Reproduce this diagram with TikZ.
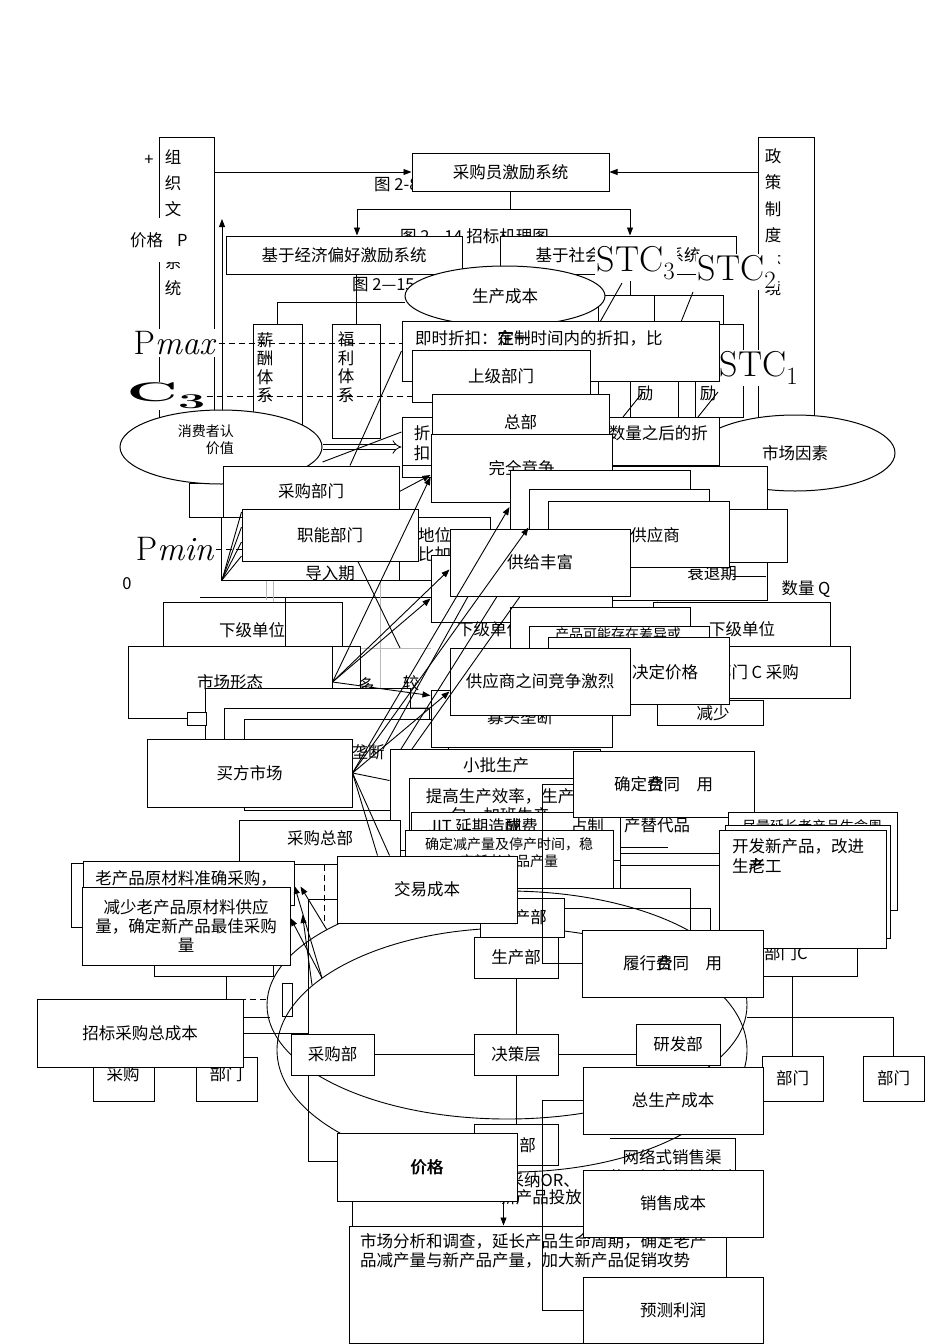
\documentclass[tikz,border=0pt]{standalone}
\usepackage{graphicx}
\usepackage{fontspec}
\newfontfamily\cjk{Noto Sans CJK SC}
\usetikzlibrary{arrows.meta, shapes.geometric}
\newcommand{\cjkf}{\cjk\fontsize{16.5}{19}\selectfont}
\newcommand{\cjks}{\cjk\fontsize{14}{17}\selectfont}
\newcommand{\ovl}[2]{\makebox[0pt][l]{#1}#2}

\begin{document}
\begin{tikzpicture}[x=1pt, y=-1pt,
  box/.style={draw, fill=white, line width=1pt, inner sep=0pt, font=\cjkf},
  wh/.style 2 args={minimum width=#1, minimum height=#2},
  bgrect/.style={draw, fill=white, line width=1pt},
  txt/.style={inner sep=0pt, font=\cjkf},
  vtxt/.style={inner sep=0pt, align=center, anchor=north, font=\cjk\fontsize{16.5}{#1}\selectfont},
  oval/.style={ellipse, draw, fill=white, line width=1pt, inner sep=0pt, font=\cjkf},
  big/.style={fill=white, inner sep=2pt, font=\fontsize{36}{36}\selectfont},
  ln/.style={line width=0.9pt},
  arr/.style={-{Triangle[length=8pt,width=6pt]}, line width=0.9pt},
  dashln/.style={line width=0.9pt, dash pattern=on 6pt off 4pt},
  gridln/.style={gray!55, line width=0.9pt}
]
\fill[white] (0,0) rectangle (950,1344);
\useasboundingbox (0,0) rectangle (950,1344);

% axes and grid
\coordinate (o) at (222,580);
\draw[arr] (o) -- (222,219);
\draw[ln] (o) -- (766,580);
\draw[ln] (200,597) -- (755,597);
\draw[gridln] (266,561) -- (266,600);
\draw[gridln] (273,561) -- (273,745);
\draw[gridln] (380,561) -- (380,760);
\draw[gridln] (657,540) -- (657,725);
\draw[gridln] (342,648) -- (431,648);
\draw[gridln] (360,707) -- (431,707);
\node[txt] at (127,584) {0};
\node[txt] at (806,589) {数量 Q};

% top frames
\node[box, wh={55}{293}] (zz) at (186.5,283.5) {};
\node[vtxt=26.3] at (173,149) {组\\织\\文\\化\\系\\统};
\node[txt] at (149,160) {+};
\node[txt, fill=white, anchor=west, minimum height=44] at (130,240) {价格\hspace{14pt}P};
\node[box, wh={56}{293}] (zc) at (786,283.5) {};
\node[vtxt=26.5] at (773,148) {政\\策\\制\\度\\环\\境};

\node[txt, anchor=west] at (374,185) {图 2-8};
\node[box, wh={197}{38}] (jl) at (510.5,172) {采购员激励系统};
\draw[arr] (zz.east |- jl.west) -- (jl.west);
\draw[arr] (zc.west |- jl.east) -- (jl.east);
\node[txt, anchor=west] at (400,236) {图 2—14 招标机理图};
\node[box, wh={236}{38}] (jj) at (344,255) {基于经济偏好激励系统};
\node[box, wh={236}{38}] (js) at (618,255) {基于社会偏好激励系统};
\draw[ln] (jl.south) -- ++(0,18) coordinate (fork);
\draw[arr] (fork) -| ([xshift=13pt]jj.north);
\draw[arr] (fork) -| ([xshift=12pt]js.north);

\node[txt, anchor=west] at (352,285) {图 2—15};
\node[box, wh={49}{126}] (xc) at (277.5,387) {};
\node[vtxt=18.5] at (265,332) {薪\\酬\\体\\系};
\node[box, wh={48}{114}] (fl) at (356,381) {};
\node[vtxt=18.5] at (346,332) {福\\利\\体\\系};
\draw[ln] (fl.north) -- (fl.north |- jj.south);

% incentive boxes
\draw[ln] ([xshift=12pt]js.south) -- ++(0,21);
\draw[bgrect] (598,295) rectangle (723,417);
\draw[ln] (654,295) -- (654,324);
\node[box, wh={48}{93}] (jla) at (654,370.5) {};
\node[box, wh={48}{93}] (jlb) at (719,370.5) {};
\node[vtxt=21] at (645,364) {激\\励};
\node[vtxt=21] at (708,364) {激\\励};
\draw[ln] (622,283) -- (600,322);
\draw[ln] (693,292) -- (681,322);
\draw[ln] (643,392) -- (623,417);
\draw[ln] (718,392) -- (698,417);

\node[oval, wh={200}{60}] (sc) at (505,296) {生产成本};
\draw[ln] (xc.north) |- ([yshift=-6pt]sc.west);
\node[big] (stc3) at (636,263) {STC$_3$};
\node[big] (stc2) at (737,272) {STC$_2$};
\node[big] (stc1) at (759,368) {STC$_1$};
\node[big, font=\fontsize{34}{34}\selectfont] (pmax) at (175,343) {P\textit{max}};
\node[big, inner sep=1pt] (c3) at (166,396) {\scalebox{1.75}[0.75]{\fontsize{36}{36}\selectfont\bfseries C\raisebox{-9pt}{\fontsize{28}{28}\selectfont 3}}};

% discounts
\node[box, wh={317}{60}] (zk) at (560.5,351) {};
\node[txt, anchor=west] at (415,338) {即时折扣：\ovl{在}{定}\ovl{一}{制}时间内的折扣，比};
\node[box, wh={178}{52}] (sj) at (501,376) {上级部门};
\draw[dashln] (pmax.east) -- (pmax.east -| zk.west);
\draw[dashln] (c3.east) -- (c3.east -| sj.west);
\node[oval, wh={200}{76}] (sy) at (795,453) {市场因素};
\node[box, wh={317}{48}] (zk2) at (560.5,441) {};
\node[txt, anchor=east] at (708,433) {购买数量之后的折};
\draw[ln] (402,465) -- (402,477) -- (432,477) -- (432,465);
\node[txt, align=center, font=\cjk\fontsize{16.5}{20}\selectfont] at (422,443) {折\\扣};
\node[box, wh={177}{56}] (zb) at (520.5,422) {总部};

\draw[bgrect] (189,483) rectangle (399,517);
\node[oval, wh={202}{74}] (xf) at (221,447) {};
\node[txt, font=\cjks, align=right, anchor=east] at (234,440) {消费者认\\价值};
\draw[double, double distance=4pt, line width=0.8pt, -{Implies}] (xf.east) -- (xf.east -| zk2.west);
\draw[ln] ([yshift=-15pt]xf.east) -- ([yshift=9pt]zk2.west);
\node[box, wh={176}{51}] (cg) at (311,491.5) {采购部门};
\draw[ln] ([xshift=39pt]cg.north) -- (zk.west);
\node[box, wh={181}{68}] (wq) at (521.5,468) {完全竞争};
\draw[arr] (cg.east) -- ([yshift=-7pt]wq.west);

\draw[bgrect] (221,517) rectangle (440,580);
\node[txt] at (330,573) {导入期};
\draw[bgrect] (399,517) rectangle (490,580);
\node[txt, align=left, anchor=west] at (418,545) {地位\\比加};
\node[box, wh={176}{52}] (zn) at (330,535) {职能部门};
\foreach \dy in {23,8,-7,-21} \draw[ln] (o) -- ([yshift=\dy pt]zn.west);
\node[big, font=\fontsize{34}{34}\selectfont] (pmin) at (175,549) {P\textit{min}};
\draw[dashln] (pmin.east) -- (pmin.east -| zn.west);
\draw[ln] ([xshift=28pt]zn.south) -- (400,648);

% suppliers
\draw[bgrect] (612,466) rectangle (767,600);
\draw[ln] (733,576) -- (766,576);
\node[txt] at (712,573) {衰退期};
\node[box, wh={180}{60}] (b1) at (600,500) {};
\node[box, wh={180}{61}] (b2) at (619,519.5) {};
\draw[bgrect] (728,509) rectangle (787,562);
\node[box, wh={181}{66}] (gys) at (638.5,534) {};
\node[txt] at (655,535) {供应商};
\node[box, wh={181}{67}] (xb2) at (521.5,588.5) {};
\node[txt] at (490,629) {下级单位};
\node[box, wh={180}{67}] (gj) at (540,562.5) {供给丰富};

\node[box, wh={179}{45}] (xd1) at (252.5,624.5) {};
\node[txt] at (252,630) {下级单位};
\draw[ln] (285,597) -- (285,647);
\draw[bgrect] (332,646) rectangle (360,720);
\node[txt] at (366,685) {多};
\node[txt] at (411,683) {较};
\node[box, wh={204}{72}] (sx) at (230,682) {市场形态};
\draw[bgrect] (205,688) rectangle (410,790);
\draw[bgrect] (224,708) rectangle (429,800);
\draw[bgrect] (244,719) rectangle (448,810);
\draw[bgrect] (187,712) rectangle (206,725);
\node[box, wh={205}{68}] (bm) at (249.5,773) {买方市场};
\node[txt] at (368,752) {垄断};

\node[box, wh={177}{44}] (xd2) at (741.5,624) {};
\node[txt] at (742,629) {下级单位};
\node[box, wh={122}{52}] (bc) at (789,672) {};
\node[txt] at (757,672) {部门 C 采购};
\draw[bgrect] (657,700) rectangle (763,725);
\node[txt] at (713,713) {减少};
\draw[bgrect] (510,607) rectangle (690,660);
\draw[bgrect] (529,626) rectangle (709,690);
\node[txt, font=\cjks] at (618,634) {产品可能存在差异或};
\node[box, wh={181}{67}] (jd) at (638.5,670.5) {};
\node[txt] at (665,672) {决定价格};
\node[box, wh={181}{57}] (gt) at (521.5,718.5) {};
\node[txt] at (520,717) {寡头垄断};
\node[box, wh={180}{67}] (gz) at (540,681.5) {供应商之间竞争激烈};

\draw[arr] (sx.east) -- ([yshift=-9pt]wq.west);
\draw[arr] (sx.east) -- ([yshift=-7pt]gj.west);
\draw[arr] (sx.east) -- ([yshift=-10pt]xb2.west);
\draw[arr] (sx.east) -- ([yshift=23pt]gt.west);
\draw[arr] (bm.east) -- ([yshift=-7pt]b1.west);
\draw[arr] (bm.east) -- ([yshift=-8pt]b2.west);
\draw[arr] (bm.east) -- ([yshift=-10pt]gz.west);
\draw[ln] ([xshift=-72pt]gj.south) -- (383,749);
\draw[ln] ([xshift=-43pt]gj.south) -- (401,749);
\draw[ln] ([xshift=-20pt]gj.south) -- (412,749);

% production
\node[box, wh={210}{101}] (xp) at (495,799.5) {};
\node[txt] at (496,765) {小批生产};
\node[box, wh={211}{62}] (tg) at (514.5,809) {};
\node[txt, align=center] at (500,806) {提高生产效率，生产\\包，加班生产};
\node[box, wh={209}{48}] (jit) at (515.5,836) {};
\node[txt, anchor=west] at (428,826) {JIT 延期造\ovl{酬}{成}费\qquad 占制};
\node[box, wh={208}{58}] (qd) at (509,859) {};
\node[txt, font=\cjks, align=center] at (509,853) {确定减产量及停产时间，稳\\定新老产品产量};
\draw[ln] (620,827) -- (620,888);
\draw[ln] (620,847) -- (668,847);
\draw[ln] (620,853) -- (719,853);
\draw[ln] (620,865) -- (719,865);
\draw[ln] (517,888) -- (690,888) -- (690,935);
\draw[ln] (560,908) -- (710,908) -- (710,935);
\node[txt] at (657,825) {产替代品};
\node[box, wh={181}{66}] (qf) at (663.5,784) {确定\ovl{合}{费}同\quad 用};

\node[box, wh={117}{71}] (bmC) at (798.5,940.5) {};
\node[txt] at (786,953) {部门C};
\draw[bgrect] (728,812) rectangle (897,910);
\node[txt, font=\cjks] at (812,826) {尽量延长老产品生命周};
\draw[bgrect] (725,825) rectangle (890,938);
\node[box, wh={167}{118}] (kf) at (802.5,889) {};
\node[txt, align=left, anchor=north west, font=\cjk\fontsize{16.5}{20}\selectfont] at (732,838) {开发新产品，改进\\生\ovl{老}{产}工};

% purchasing
\node[box, wh={161}{44}] (cz) at (319.5,842) {};
\node[txt] at (320,838) {采购总部};
\draw[ln] (507,1005) ellipse [x radius=240, y radius=114];
\draw[ln] (512,1050) ellipse [x radius=235, y radius=122];
\draw[bgrect] (71,863) rectangle (200,927);
\node[box, wh={211}{44}] (lc) at (188.5,883) {};
\node[txt] at (186,878) {老产品原材料准确采购，};
\draw[bgrect] (154,900) rectangle (273,976);
\draw[ln] (226,976) -- (226,999);
\node[box, wh={208}{78}, align=center] (js2) at (186,926) {减少老产品原材料供应\\量，确定新产品最佳采购\\量};
\draw[dashln] ([xshift=4.5pt]cz.south) -- ++(0,61);
\draw[ln] (337,899) -- (308,899) -- (308,1161) -- (337,1161);
\draw[arr] (322,978) -- ([yshift=-3pt]lc.east);
\draw[arr] (327,930) -- ([xshift=10pt]js2.north east);
\draw[arr] (322,978) -- ([yshift=8pt]js2.east);
\draw[arr] (312,985) -- ([xshift=12pt, yshift=11pt]js2.east);

\node[box, wh={84}{39}] (sp2) at (522,917.5) {生产部};
\node[box, wh={180}{67}] (jy) at (427,889.5) {交易成本};
\draw[ln] (bm.east) -- ([yshift=19pt]xp.west);
\draw[ln] (bm.east) -- ([xshift=41pt]jy.north west);
\draw[ln] (bm.east) -- ([xshift=53pt]jy.north west);
\node[box, wh={84}{41}] (sp) at (516,957.5) {生产部};
\node[box, wh={181}{67}] (lf) at (672.5,963.5) {履行\ovl{合}{费}同\quad 用};
\draw[ln] (qf.west) -- ++(-30,0) |- (lf.west);

% bidding total cost
\draw[dashln] (140,999) -- (268,999);
\draw[ln] (243,1017) -- (270,1017);
\draw[ln] (243,1033) -- (308,1033);
\draw[ln] (282,983) rectangle (292,1016);
\node[box, wh={61}{44}] (cgb) at (123.5,1079) {};
\node[box, wh={61}{44}] (bmb) at (226.5,1079) {};
\node[txt] at (123,1074) {采购};
\node[txt] at (226,1074) {部门};
\node[box, wh={206}{68}] (zt) at (140,1033) {招标采购总成本};

% organisation
\node[box, wh={83}{41}] (cb) at (332.5,1054.5) {采购部};
\node[box, wh={84}{41}] (jc) at (516,1054.5) {决策层};
\node[box, wh={84}{41}] (yf) at (678,1044.5) {研发部};
\draw[ln] (cb.east) -- (jc.west);
\draw[ln] (jc.east) -- (jc.east -| yf.west);
\draw[ln] (sp.south) -- (jc.north);
\node[box, wh={61}{45}] (bm1) at (792.5,1078.5) {部门};
\node[box, wh={61}{45}] (bm2) at (893.5,1078.5) {部门};
\draw[ln] (bmC.south -| bm1.north) -- (bm1.north);
\draw[ln] (747,1017) -| (bm2.north);
\node[box, wh={84}{41}] (xb) at (516,1144.5) {};
\node[txt] at (511,1145) {销售部};
\draw[ln] (jc.south) -- (xb.north);

% cost chain
\node[txt, anchor=east] at (580,1180) {采纳OR、};
\node[txt, anchor=east] at (582,1197) {新产品投放};
\draw[ln] (610,1138) -- (735,1138) -- (735,1170);
\node[txt] at (672,1157) {网络式销售渠};
\node[txt] at (672,1177) {道，加大促销力度};
\node[box, wh={180}{67}] (zs) at (673,1100.5) {总生产成本};
\node[box, wh={377}{117}] (sc2) at (537.5,1284.5) {};
\node[txt, align=left, anchor=north west] at (360,1233) {市场分析和调查，延长产品生命周期，确定老产\\品减产量与新产品产量，加大新产品促销攻势};
\node[box, wh={180}{67}] (xs) at (673,1203.5) {销售成本};
\node[box, wh={180}{68}] (jg) at (427,1167) {\ovl{价格}{\hspace{0.7pt}价格}};
\draw[arr] ([xshift=-14pt]jg.south east) -- ([xshift=-14pt]jg.south east |- sc2.north);
\draw[ln] ([xshift=16pt]jg.south west) -- ([xshift=16pt]jg.south west |- sc2.north);
\node[box, wh={180}{66}] (yc) at (673,1310) {预测利润};
\draw[ln] (zs.west) -- ++(-40,0) |- (yc.west);
\end{tikzpicture}
\end{document}
